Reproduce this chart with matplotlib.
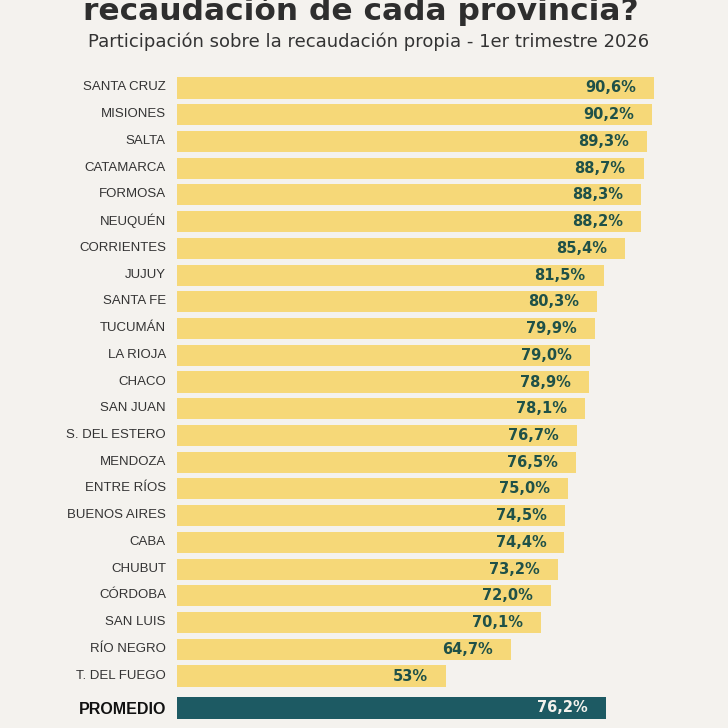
import matplotlib.pyplot as plt
import matplotlib.transforms as mtrans
from matplotlib import font_manager

provincias = ['SANTA CRUZ', 'MISIONES', 'SALTA', 'CATAMARCA', 'FORMOSA', 'NEUQUÉN',
              'CORRIENTES', 'JUJUY', 'SANTA FE', 'TUCUMÁN', 'LA RIOJA', 'CHACO',
              'SAN JUAN', 'S. DEL ESTERO', 'MENDOZA', 'ENTRE RÍOS', 'BUENOS AIRES',
              'CABA', 'CHUBUT', 'CÓRDOBA', 'SAN LUIS', 'RÍO NEGRO', 'T. DEL FUEGO']
valores = [90.6, 90.2, 89.3, 88.7, 88.3, 88.2, 85.4, 81.5, 80.3, 79.9, 79.0, 78.9,
           78.1, 76.7, 76.5, 75.0, 74.5, 74.4, 73.2, 72.0, 70.1, 64.7, 53.0]
etiquetas = ['90,6%', '90,2%', '89,3%', '88,7%', '88,3%', '88,2%', '85,4%', '81,5%',
             '80,3%', '79,9%', '79,0%', '78,9%', '78,1%', '76,7%', '76,5%', '75,0%',
             '74,5%', '74,4%', '73,2%', '72,0%', '70,1%', '64,7%', '53%']
promedio = 76.2
promedio_txt = '76,2%'

BG = '#f4f2ee'
AMARILLO = '#f6d878'
VERDE = '#1d5a63'
TXT_VAL = '#1f5148'
TXT_LAB = '#333333'

names = {f.name for f in font_manager.fontManager.ttflist}
narrow = 'Liberation Sans Narrow' if 'Liberation Sans Narrow' in names else 'Liberation Sans'

W = H = 728
fig = plt.figure(figsize=(7.28, 7.28), dpi=100)
fig.patch.set_facecolor(BG)

def px_axes(x0, y0, x1, y1):
    # pixel box (top-left origin) -> figure axes
    return fig.add_axes([x0 / W, 1 - y1 / H, (x1 - x0) / W, (y1 - y0) / H])

fig.text(361 / W, 1 - 20 / H, 'recaudación de cada provincia?', ha='center',
         va='baseline', fontsize=22.5, fontweight='bold', color='#2e2e2e')
fig.text(369 / W, 1 - 47 / H, 'Participación sobre la recaudación propia - 1er trimestre 2026',
         ha='center', va='baseline', fontsize=13, color='#333333')

# main bars: origin at px 153, 5.53 px per point
ax = px_axes(177, 75, 700, 690)
ax.set_facecolor('none')
ys = list(range(len(provincias)))
ax.barh(ys, valores, height=0.79, color=AMARILLO, edgecolor='none')
ax.set_xlim(24 / 5.53, 547 / 5.53)
ax.set_ylim(22 + 14 / 26.73, -13 / 26.73)
for y, v, t in zip(ys, valores, etiquetas):
    ax.text(v - 18 / 5.53, y, t, ha='right', va='center', fontsize=10.5,
            fontweight='bold', color=TXT_VAL)
ax.set_yticks(ys)
ax.set_yticklabels(provincias, fontsize=9.5, color=TXT_LAB, family=narrow)
ax.tick_params(axis='y', length=0, pad=8)
ax.set_xticks([])
for s in ax.spines.values():
    s.set_visible(False)
# labels sit a touch above bar centre in the reference
off = mtrans.ScaledTranslation(0, 2 / 100, fig.dpi_scale_trans)
for lbl in ax.get_yticklabels():
    lbl.set_transform(lbl.get_transform() + off)

# promedio bar drawn on its own row
ax2 = px_axes(177, 697, 700, 719)
ax2.set_facecolor('none')
ax2.barh([0], [promedio], height=1.0, color=VERDE, edgecolor='none')
ax2.set_xlim(24 / 5.945, 547 / 5.945)
ax2.set_ylim(-0.5, 0.5)
ax2.text(promedio - 18 / 5.945, 0, promedio_txt, ha='right', va='center',
         fontsize=10.5, fontweight='bold', color='#f3f1ec')
ax2.set_yticks([0])
ax2.set_yticklabels(['PROMEDIO'], fontsize=11.5, fontweight='bold', color='#111111',
                    family=narrow)
ax2.tick_params(axis='y', length=0, pad=8)
ax2.set_xticks([])
for s in ax2.spines.values():
    s.set_visible(False)

fig.savefig('out.png', dpi=100, facecolor=BG)
